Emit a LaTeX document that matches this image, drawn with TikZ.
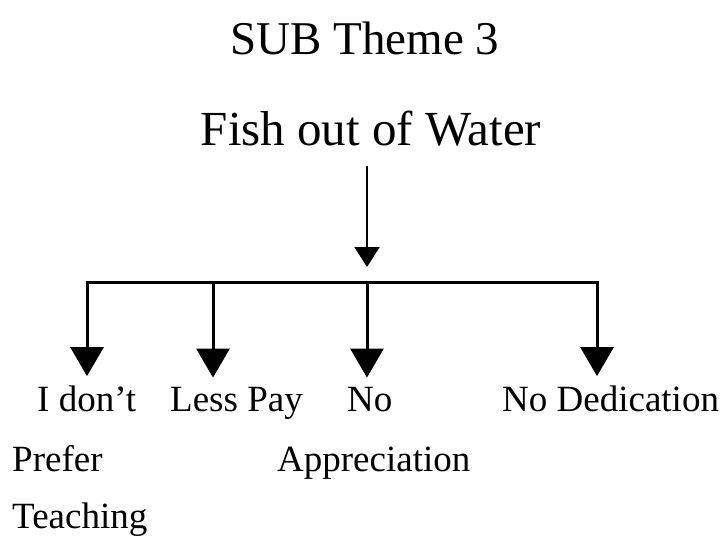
\documentclass[tikz,border=0pt]{standalone}
\usepackage{fontspec}
\setmainfont{Liberation Serif}
\usetikzlibrary{arrows.meta}
\begin{document}
\begin{tikzpicture}[x=1pt,y=-1pt,every node/.style={inner sep=0pt,anchor=base west,font=\fontsize{37}{37}\selectfont},
  bar/.style={line width=3pt,line cap=rect},
  branch/.style={line width=3pt,-{Triangle[width=33pt,length=29pt]},shorten >=9pt},
  stem/.style={line width=2pt,-{Triangle[width=25pt,length=20pt]}}]
\useasboundingbox (0,0) rectangle (728,538);
\node[anchor=base,font=\fontsize{47}{47}\selectfont] (sub) at (365,54) {SUB Theme 3};
\node[anchor=base,font=\fontsize{49}{49}\selectfont] (fish) at (371,145) {Fish out of Water};
\coordinate (hub) at (367,282);
\draw[stem,shorten <=20pt,shorten >=15pt] (fish.south -| hub) -- (hub);
\foreach \n/\x/\t/\lx in {a/87/I don't/37,b/213/Less Pay/170,c/367/No/347,d/597/No Dedication/502} {
  \node (\n1) at (\lx,411) {\t};
  \coordinate (\n) at (\x,282);
  \draw[branch] (\n) -- (\n |- \n1.north);
}
\draw[bar] (a) -- (d);
\node (a2) at (12,471) {Prefer};
\node (a3) at (12,528) {Teaching};
\node (c2) at (277,471) {Appreciation};
\end{tikzpicture}
\end{document}
